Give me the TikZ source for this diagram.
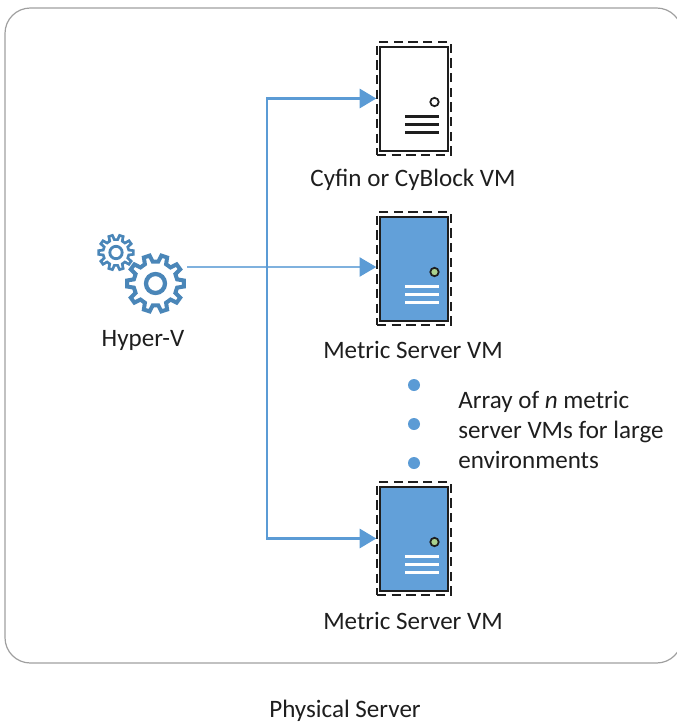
\documentclass[tikz,border=0pt]{standalone}
\usepackage{fontspec}
\setmainfont{Carlito}
\usetikzlibrary{arrows.meta,calc}
\definecolor{flow}{HTML}{5B9BD5}
\definecolor{bodyblue}{HTML}{62A0D9}
\definecolor{thinflow}{HTML}{7FB1DE}
\definecolor{gearblue}{HTML}{4A86B8}
\definecolor{led}{HTML}{A9D18E}
\definecolor{ink}{HTML}{1E1E1E}
\newcommand{\gearpath}[5]{% centre, outer r, root r, teeth, line width
  \draw[gearblue,line width=#5,line join=miter]
    \foreach \k [evaluate=\k as \t using {(\k-1)*360/#4}] in {1,...,#4}{
      \ifnum\k=1 ($(#1)+(\t-0.30*360/#4:#3)$)\else -- ($(#1)+(\t-0.30*360/#4:#3)$)\fi
      -- ($(#1)+(\t-0.17*360/#4:#2)$)
      -- ($(#1)+(\t+0.17*360/#4:#2)$)
      -- ($(#1)+(\t+0.30*360/#4:#3)$)
    } -- cycle;
}
\tikzset{
  x=0.75pt,y=-0.75pt,
  every node/.style={text=ink,font=\fontsize{18.8}{22.5}\selectfont},
  vmbound/.style={draw=ink,line width=1.1pt,dash pattern=on 7pt off 4pt,minimum width=55.5pt,minimum height=84.5pt,inner sep=0pt},
  vmbody/.style={draw=ink,line width=1.7pt,minimum width=50.5pt,minimum height=78pt,inner sep=0pt},
  conn/.style={draw=flow,line width=1.7pt,-{Triangle[length=12.5pt,width=14.5pt]}},
  thin conn/.style={draw=thinflow,line width=0.8pt,-{Triangle[length=12.5pt,width=14.5pt,color=flow]}},
  dot/.style={circle,fill=flow,minimum size=9pt,inner sep=0pt},
}
\begin{document}
\begin{tikzpicture}
\useasboundingbox (0,0) rectangle (676,722);
\draw[draw=gray!75,line width=0.9pt,rounded corners=19pt] (5,8) rectangle (682,663);

% servers
\node[vmbound] (vm1) at (414,98.5) {};
\node[vmbody,fill=white] (body1) at (414,98.8) {};
\node[vmbound] (vm2) at (414,268.5) {};
\node[vmbody,fill=bodyblue] (body2) at (414,268.8) {};
\node[vmbound] (vm3) at (414,538.5) {};
\node[vmbody,fill=bodyblue] (body3) at (414,538.8) {};

\foreach \b/\dy/\cf/\lc/\lw in {body1/0/white/ink/2.1pt,body2/170/led/white/2pt,body3/440/led/white/2pt}{
  \draw[ink,line width=1.3pt,fill=\cf] (434.5,102+\dy) circle (4.2);
  \foreach \ly in {116.8,124.8,132.8}
    \draw[\lc,line width=\lw] (405,\ly+\dy) -- (439,\ly+\dy);
}

% gears
\coordinate (gearbig) at (155.5,283.5);
\coordinate (gearsmall) at (116,252.5);
\gearpath{gearbig}{28.5}{22}{10}{3pt}
\draw[gearblue,line width=3.2pt] (gearbig) circle (9.5);
\gearpath{gearsmall}{17.5}{13}{10}{2pt}
\draw[gearblue,line width=2.1pt] (gearsmall) circle (6.2);
\coordinate (hvout) at (187,267);
\coordinate (hub) at (267,267);

% connectors
\draw[thin conn] (hvout) -- (hvout -| vm2.west);
\draw[conn] (hub) |- (vm1.west);
\draw[conn] (hub) |- (vm3.west);

% labels
\node (lbl1) at (413,180) {Cyfin or CyBlock VM};
\node (lbl2) at (413,350) {Metric Server VM};
\node (lbl3) at (413,621) {Metric Server VM};
\node (hv) at (143,340) {Hyper-V};
\node (phys) at (345,711) {Physical Server};
\node[dot] (d1) at (414,385) {};
\node[dot] (d2) at (414,424) {};
\node[dot] (d3) at (414,463) {};
\node[anchor=west,align=left,inner sep=0pt] (note) at (458,430) {Array of \textit{n} metric\\server VMs for large\\environments};
\end{tikzpicture}
\end{document}
